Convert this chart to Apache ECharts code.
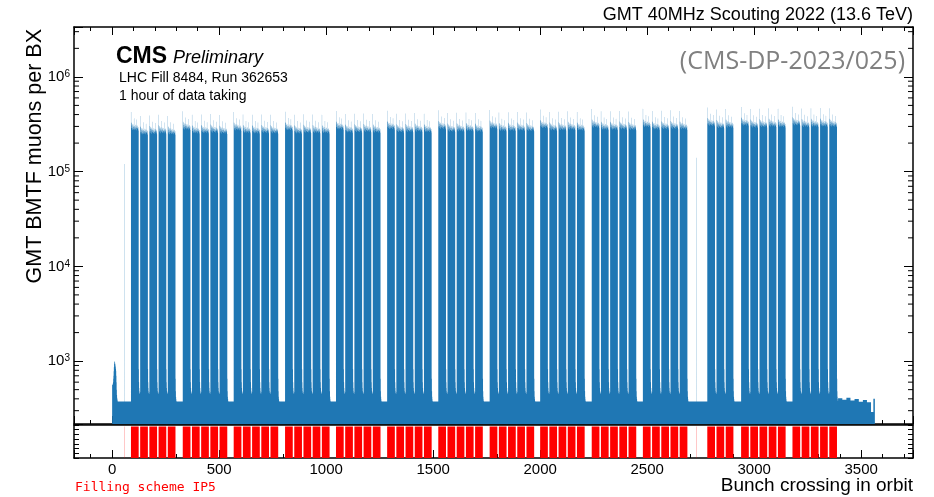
<!DOCTYPE html>
<html>
<head>
<meta charset="utf-8">
<script src="https://cdn.jsdelivr.net/npm/echarts@6/dist/echarts.min.js"></script>
<style>
  html, body { margin: 0; padding: 0; background: #fff; }
  #chart { width: 934px; height: 497px; }
</style>
</head>
<body>
<div id="chart"></div>
<script>
// ---- LHC orbit and axis ranges ----
const N_BX = 3564;
const X_MIN = -178.2, X_MAX = 3742.2;
const Y_MIN = 217, Y_MAX = 3.36e6;

// ---- Filling scheme: batches of 36-bunch trains ----
const batchStarts    = [88, 330, 568, 808, 1046, 1285, 1524, 1764, 2000, 2241, 2480, 2781, 2939, 3179];
const trainsPerBatch = [5, 5, 5, 5, 5, 5, 5, 5, 5, 5, 5, 3, 5, 5];
const bunchesPerTrain = 36;
const trainPitch = 43;                 // 36 filled slots + 7 empty slots
const singleBunchBX     = [57, 2729];
const singleBunchCounts = [120000, 140000];

// ---- Muon counts per filled bunch, per train (thousands) ----
const trainLevels = [
  [300, 272, 276, 280, 272],
  [305, 280, 282, 285, 278],
  [300, 282, 280, 283, 280],
  [302, 280, 284, 282, 281],
  [308, 286, 288, 290, 285],
  [310, 288, 290, 292, 288],
  [312, 292, 294, 296, 292],
  [315, 296, 298, 300, 296],
  [318, 300, 302, 305, 300],
  [322, 305, 306, 308, 304],
  [325, 308, 310, 312, 308],
  [335, 318, 322],
  [338, 322, 325, 328, 325],
  [340, 326, 328, 330, 328]
];
// typical bunch-by-bunch pattern along a train (relative to the train level)
const trainShape = [1.42, 1.10, 0.96, 1.08, 1.02, 0.93, 1.06, 0.97, 1.03, 0.91, 1.00, 1.05,
                    0.94, 0.99, 1.22, 0.95, 1.01, 0.92, 0.99, 1.04, 0.93, 0.98, 0.95, 1.03,
                    0.96, 0.91, 1.00, 1.18, 0.97, 0.94, 1.02, 0.96, 1.00, 0.93, 0.98, 0.90];

// ---- Counts in empty slots ----
const emptyLevel = 375;
const headCounts = [560, 560, 570, 580, 600, 650, 700, 780, 860, 930, 980, 1000, 990, 960,
                    930, 900, 870, 830, 790, 700, 600, 500, 440, 410, 395, 385];
const pitchGapCounts   = [820, 600, 520, 480, 460, 450, 470];
const afterBatchCounts = [650, 480, 420, 395, 380];
const abortGapCounts   = [405, 392, 410, 385, 398, 372, 390, 368];   // across BX 3395-3545
const tailBX     = [3546, 3557];
const tailCounts = [290, 400];

// ---- assemble per-BX histogram and filling pattern ----
const counts = new Array(N_BX).fill(emptyLevel);
const filled = new Array(N_BX).fill(0);
headCounts.forEach((c, i) => { counts[i] = c; });

batchStarts.forEach((start, g) => {
  for (let t = 0; t < trainsPerBatch[g]; t++) {
    const t0 = start + t * trainPitch;
    for (let b = 0; b < bunchesPerTrain; b++) {
      counts[t0 + b] = trainLevels[g][t] * 1000 * trainShape[b];
      filled[t0 + b] = 1;
    }
    const after = t0 + bunchesPerTrain;
    const gapList = (t < trainsPerBatch[g] - 1) ? pitchGapCounts : afterBatchCounts;
    gapList.forEach((c, k) => { if (!filled[after + k]) counts[after + k] = c; });
  }
});
singleBunchBX.forEach((bx, i) => { counts[bx] = singleBunchCounts[i]; filled[bx] = 1; });

const lastFilled = filled.lastIndexOf(1);
const abortStart = lastFilled + 1 + afterBatchCounts.length;
const abortSpan = (tailBX[0] - abortStart) / abortGapCounts.length;
for (let bx = abortStart; bx < tailBX[0]; bx++) {
  counts[bx] = abortGapCounts[Math.min(abortGapCounts.length - 1, Math.floor((bx - abortStart) / abortSpan))];
}
for (let bx = tailBX[0]; bx < N_BX; bx++) {
  counts[bx] = bx < tailBX[1] ? tailCounts[0] : tailCounts[1];
}

const histData = counts.map((c, i) => [i, c]);
const fillData = filled.map((f, i) => [i, f]);

// minor ticks of the log axis: 2..9 x 10^n
const logMinor = [];
for (let n = 2; n <= 6; n++) {
  for (let k = 2; k <= 9; k++) {
    const v = k * Math.pow(10, n);
    if (v > Y_MIN && v < Y_MAX) logMinor.push([X_MIN, v]);
  }
}

const FONT = '"Liberation Sans", Arial, Helvetica, sans-serif';
const BLACK = '#000';
const axisLineStyle = { show: true, onZero: false, lineStyle: { color: BLACK, width: 1.5 } };

function xAxisCfg(grid, pos, labels, ticks) {
  return {
    type: 'value', gridIndex: grid, position: pos, min: X_MIN, max: X_MAX,
    splitNumber: 8,
    axisLine: axisLineStyle,
    axisTick: { show: ticks, inside: true, length: 8, lineStyle: { color: BLACK, width: 1 } },
    minorTick: { show: ticks, splitNumber: 5, length: 4, lineStyle: { color: BLACK, width: 1 } },
    splitLine: { show: false },
    axisLabel: labels ? {
      show: true, color: BLACK, fontSize: 15, fontFamily: FONT, margin: 4,
      formatter: v => (Math.abs(v % 500) < 1e-6 ? String(v) : '')
    } : { show: false }
  };
}

function logAxisCfg(pos, labels) {
  return {
    type: 'log', logBase: 10, gridIndex: 0, position: pos, min: Y_MIN, max: Y_MAX,
    axisLine: axisLineStyle,
    axisTick: { show: true, inside: true, length: 9, lineStyle: { color: BLACK, width: 1 } },
    splitLine: { show: false },
    axisLabel: labels ? {
      show: true, color: BLACK, margin: 4,
      formatter: v => {
        const e = Math.log10(v), r = Math.round(e);
        return Math.abs(e - r) < 1e-6 ? '{b|10}{s|' + r + '}' : '';
      },
      rich: {
        b: { fontSize: 15, fontFamily: FONT, color: BLACK, lineHeight: 15, verticalAlign: 'bottom' },
        s: { fontSize: 10, fontFamily: FONT, color: BLACK, lineHeight: 10, verticalAlign: 'top', padding: [0, 0, 7, 0] }
      }
    } : { show: false }
  };
}

function fillYAxisCfg(pos) {
  return {
    type: 'value', gridIndex: 1, position: pos, min: 0, max: 1.05, interval: 0.15,
    axisLine: axisLineStyle,
    axisTick: { show: true, inside: true, length: 5, lineStyle: { color: BLACK, width: 1 } },
    splitLine: { show: false },
    axisLabel: { show: false }
  };
}

// one filled step outline for a whole per-BX series, built through the axis scales
function stepAreaRenderer(values, baseValue, color) {
  return (params, api) => {
    if (params.dataIndex !== 0) return null;
    const base = api.coord([0, baseValue])[1];
    const pts = [[api.coord([0, baseValue])[0], base]];
    for (let i = 0; i < values.length; i++) {
      const v = values[i][1];
      if (v > baseValue) {
        pts.push(api.coord([i, v]), api.coord([i + 1, v]));
      } else {
        pts.push([api.coord([i, baseValue])[0], base], [api.coord([i + 1, baseValue])[0], base]);
      }
    }
    pts.push([api.coord([values.length, baseValue])[0], base]);
    return { type: 'polygon', shape: { points: pts }, style: { fill: color, stroke: null } };
  };
}

const option = {
  animation: false,
  backgroundColor: '#fff',
  grid: [
    { left: 74, right: 21, top: 27, height: 397 },
    { left: 74, right: 21, top: 425, height: 33 }
  ],
  xAxis: [
    xAxisCfg(0, 'bottom', false, true),
    xAxisCfg(0, 'top', false, true),
    xAxisCfg(1, 'bottom', true, true),
    xAxisCfg(1, 'top', false, false)
  ],
  yAxis: [
    logAxisCfg('left', true),
    logAxisCfg('right', false),
    fillYAxisCfg('left'),
    fillYAxisCfg('right')
  ],
  series: [
    {
      name: 'GMT BMTF muons', type: 'custom', xAxisIndex: 0, yAxisIndex: 0,
      data: histData, encode: { x: 0, y: 1 }, silent: true, clip: true, z: 1,
      renderItem: stepAreaRenderer(histData, Y_MIN, '#1f77b4')
    },
    {
      name: 'Filling scheme', type: 'custom', xAxisIndex: 2, yAxisIndex: 2,
      data: fillData, encode: { x: 0, y: 1 }, silent: true, clip: true, z: 1,
      renderItem: stepAreaRenderer(fillData, 0, '#ff0000')
    },
    {
      name: 'log minor ticks', type: 'custom', xAxisIndex: 0, yAxisIndex: 0,
      data: logMinor, encode: { x: 0, y: 1 }, silent: true, clip: false, z: 5,
      renderItem: (params, api) => {
        const v = api.value(1);
        const pL = api.coord([X_MIN, v]);
        const pR = api.coord([X_MAX, v]);
        const st = { stroke: BLACK, lineWidth: 1 };
        return {
          type: 'group',
          children: [
            { type: 'line', shape: { x1: pL[0], y1: pL[1], x2: pL[0] + 5, y2: pL[1] }, style: st },
            { type: 'line', shape: { x1: pR[0], y1: pR[1], x2: pR[0] - 5, y2: pR[1] }, style: st }
          ]
        };
      }
    }
  ],
  graphic: [
    { type: 'text', x: 913, y: 15, style: { text: 'GMT 40MHz Scouting 2022 (13.6 TeV)', font: '18px ' + FONT, fill: BLACK, align: 'right', verticalAlign: 'middle' } },
    { type: 'text', x: 35, y: 29, rotation: Math.PI / 2, style: { text: 'GMT BMTF muons per BX', font: '21.5px ' + FONT, fill: BLACK, align: 'right', verticalAlign: 'middle' } },
    { type: 'text', x: 116, y: 57, style: { text: 'CMS', font: 'bold 23px ' + FONT, fill: BLACK, align: 'left', verticalAlign: 'middle' } },
    { type: 'text', x: 173, y: 58, style: { text: 'Preliminary', font: 'italic 18px ' + FONT, fill: BLACK, align: 'left', verticalAlign: 'middle' } },
    { type: 'text', x: 119, y: 78.5, style: { text: 'LHC Fill 8484, Run 362653', font: '14px ' + FONT, fill: BLACK, align: 'left', verticalAlign: 'middle' } },
    { type: 'text', x: 119, y: 96, style: { text: '1 hour of data taking', font: '14px ' + FONT, fill: BLACK, align: 'left', verticalAlign: 'middle' } },
    { type: 'text', x: 905, y: 62, style: { text: '(CMS-DP-2023/025)', font: '25px "Open Sans", sans-serif', fill: '#808080', align: 'right', verticalAlign: 'middle' } },
    { type: 'text', x: 75, y: 488, style: { text: 'Filling scheme IP5', font: '13px "DejaVu Sans Mono", monospace', fill: '#ff0000', align: 'left', verticalAlign: 'middle' } },
    { type: 'text', x: 913, y: 486, style: { text: 'Bunch crossing in orbit', font: '19px ' + FONT, fill: BLACK, align: 'right', verticalAlign: 'middle' } }
  ]
};

const chart = echarts.init(document.getElementById('chart'), null, { renderer: 'canvas' });
chart.setOption(option);
</script>
</body>
</html>
